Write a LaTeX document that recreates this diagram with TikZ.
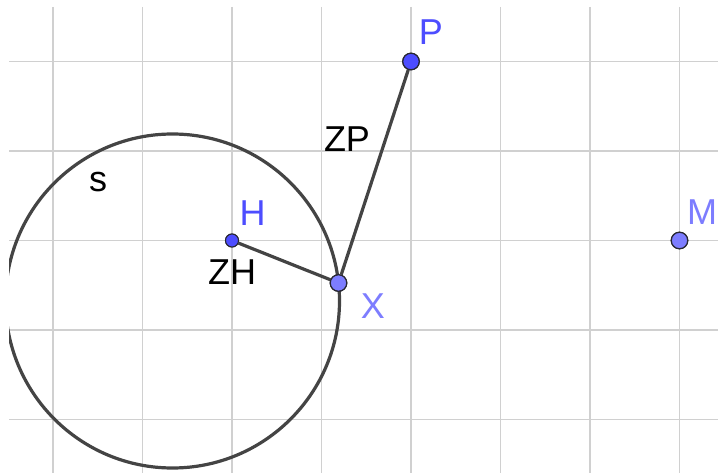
\documentclass[tikz,border=0pt]{standalone}
\usepackage{fontspec}
\setmainfont{Liberation Sans}
\definecolor{gridc}{RGB}{208,208,208}
\definecolor{linec}{RGB}{68,68,68}
\definecolor{freept}{RGB}{77,77,255}
\definecolor{pathpt}{RGB}{125,125,255}
\definecolor{ptedge}{RGB}{40,40,50}
\tikzset{
  gridline/.style={draw=gridc, line width=1.5pt},
  segline/.style={draw=linec, line width=3.2pt},
  ptfree/.style={circle, fill=freept, draw=ptedge, line width=1.2pt, inner sep=0pt, minimum size=16.5pt},
  ptsmall/.style={circle, fill=freept, draw=ptedge, line width=1.0pt, inner sep=0pt, minimum size=13pt},
  ptpath/.style={circle, fill=pathpt, draw=ptedge, line width=1.2pt, inner sep=0pt, minimum size=16.5pt},
  lbl/.style={anchor=base, inner sep=0pt, font=\fontsize{36}{40}\selectfont},
}
\begin{document}
\begin{tikzpicture}[x=1pt,y=-1pt]
\useasboundingbox (0,0) rectangle (718,473);
\fill[white] (0,0) rectangle (718,473);
\begin{scope}
\clip (9,7) rectangle (718,473);
% grid
\foreach \gx in {53,142.5,232,321.5,411,500.5,590,679.5}
  \draw[gridline] (\gx,7) -- (\gx,473);
\foreach \gy in {61.5,151,240.5,330,419.5}
  \draw[gridline] (9,\gy) -- (718,\gy);
% circle s
\coordinate (c) at (172.5,301);
\draw[segline] (c) circle[radius=167pt];
\end{scope}
% points
\node[ptsmall] (H) at (232,240.5) {};
\node[ptfree] (P) at (411,61.5) {};
\node[ptpath] (X) at (338.5,283) {};
\node[ptpath] (M) at (679.5,240.5) {};
% segments
\draw[segline] (H) -- (X);
\draw[segline] (X) -- (P);
% redraw points on top
\node[ptsmall] at (H) {};
\node[ptfree] at (P) {};
\node[ptpath] at (X) {};
\node[ptpath] at (M) {};
% labels
\node[lbl, text=freept] (lP) at (431,45) {P};
\node[lbl, text=freept] (lH) at (252.5,225.5) {H};
\node[lbl, text=pathpt] (lM) at (702,225) {M};
\node[lbl, text=pathpt] (lX) at (373,319) {X};
\node[lbl, text=black] (lZH) at (232,284) {ZH};
\node[lbl, text=black] (lZP) at (347,152) {ZP};
\node[lbl, text=black] (ls) at (98,192) {s};
\end{tikzpicture}
\end{document}
